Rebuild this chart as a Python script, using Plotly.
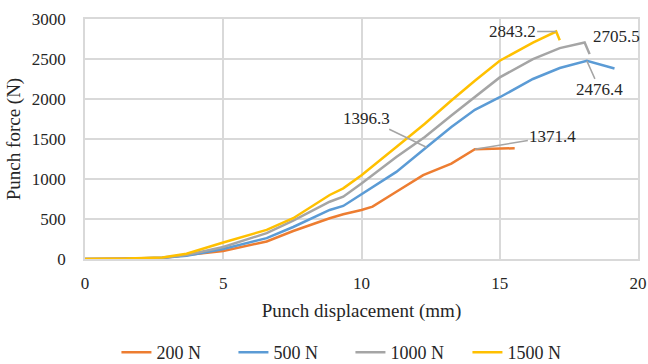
import plotly.graph_objects as go

# Data
x_200 = [0, 1.5, 2.8, 3.67, 5.0, 6.57, 7.53, 8.85, 9.34, 10.0, 10.4, 11.26, 12.23, 13.25, 14.1, 15.54]
y_200 = [0, 2, 12, 50, 100, 219, 350, 510, 560, 613, 654, 841, 1048, 1193, 1371.4, 1385]

x_500 = [0, 1.5, 2.8, 3.67, 5.0, 6.57, 7.53, 8.85, 9.34, 10.0, 11.26, 12.35, 13.25, 14.1, 15.0, 16.2, 17.17, 18.15, 19.15]
y_500 = [0, 2, 15, 40, 124, 261, 400, 613, 663, 812, 1089, 1396.3, 1649, 1865, 2022, 2250, 2387, 2476.4, 2382]

x_1000 = [0, 1.5, 2.8, 3.67, 5.0, 6.57, 7.53, 8.85, 9.34, 10.0, 11.26, 12.29, 13.25, 14.1, 15.0, 16.2, 17.17, 18.07, 18.25]
y_1000 = [0, 3, 18, 50, 150, 323, 480, 716, 779, 945, 1276, 1524, 1794, 2022, 2270, 2499, 2636, 2705.5, 2561]

x_1500 = [0, 1.5, 2.8, 3.67, 5.0, 6.57, 7.53, 8.85, 9.34, 10.0, 11.26, 12.29, 13.25, 14.1, 15.0, 16.2, 17.04, 17.17]
y_1500 = [0, 5, 20, 65, 207, 364, 510, 800, 883, 1048, 1400, 1691, 1981, 2229, 2478, 2705, 2843.2, 2735]

series_names = ["200 N", "500 N", "1000 N", "1500 N"]
series_x = [x_200, x_500, x_1000, x_1500]
series_y = [y_200, y_500, y_1000, y_1500]
colors = ["#ED7D31", "#5B9BD5", "#A5A5A5", "#FFC000"]

FONT = "Liberation Serif"
TXT = "#262626"

fig = go.Figure()
for name, xs, ys, c in zip(series_names, series_x, series_y, colors):
    fig.add_trace(go.Scatter(x=xs, y=ys, mode="lines", name=name,
                             line=dict(color=c, width=2.5)))

# Data labels: (x, y, ax, ay)
labels = [
    (17.04, 2843.2, -44, 0),
    (18.15, 2476.4, 13, 29),
    (12.35, 1396.3, -60, -29),
    (14.1, 1371.4, 78, -13),
]
for lx, ly, ax, ay in labels:
    fig.add_annotation(x=lx, y=ly, text=f"{ly:.1f}", showarrow=True, arrowhead=0,
                       ax=ax, ay=ay, arrowcolor="#A5A5A5", arrowwidth=1.5,
                       standoff=0, font=dict(family=FONT, size=17, color=TXT))
fig.add_annotation(x=18.07, y=2705.5, text="2705.5", showarrow=False,
                   xshift=32, yshift=6, font=dict(family=FONT, size=17, color=TXT))

fig.update_layout(
    width=648, height=364,
    margin=dict(l=85, r=10, t=19, b=105, autoexpand=False),
    paper_bgcolor="white", plot_bgcolor="white",
    font=dict(family=FONT, size=17, color=TXT),
    showlegend=True,
    legend=dict(orientation="h", x=0.48, xanchor="center", y=-0.39, yanchor="middle",
                entrywidth=72, font=dict(family=FONT, size=18, color=TXT)),
    xaxis=dict(range=[0, 20], dtick=5, showgrid=True, gridcolor="#D9D9D9", gridwidth=1.5,
               zeroline=False, showline=True, linecolor="#D9D9D9", linewidth=1.5, mirror=True,
               ticks="", ticklabelstandoff=8,
               title=dict(text="Punch displacement (mm)", font=dict(family=FONT, size=19), standoff=12),
               tickfont=dict(family=FONT, size=17)),
    yaxis=dict(range=[0, 3000], dtick=500, showgrid=True, gridcolor="#D9D9D9", gridwidth=1.5,
               zeroline=False, showline=True, linecolor="#D9D9D9", linewidth=1.5, mirror=True,
               ticks="", ticklabelstandoff=14,
               title=dict(text="Punch force (N)", font=dict(family=FONT, size=19), standoff=6),
               tickfont=dict(family=FONT, size=17)),
)

fig.write_html("out.html")
